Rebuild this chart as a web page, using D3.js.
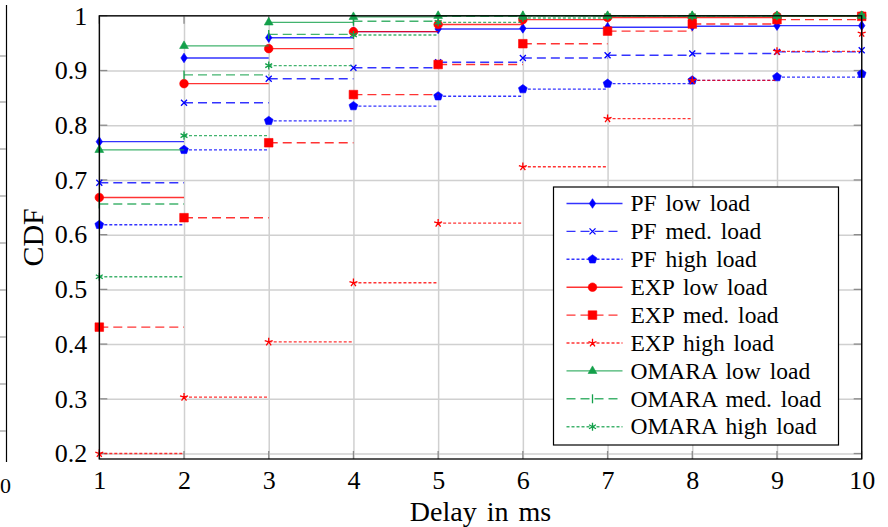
<!DOCTYPE html>
<html>
<head>
<meta charset="utf-8">
<script src="https://cdn.jsdelivr.net/npm/d3@7"></script>
<style>
  body { margin: 0; background: #fff; }
  svg text { font-family: "Liberation Serif", "Times New Roman", Times, serif !important; }
</style>
</head>
<body>
<svg id="chart" width="888" height="527"></svg>
<script>
// delay values (ms) on the x axis
const delays = [1, 2, 3, 4, 5, 6, 7, 8, 9, 10];
const yTicks = [0.2, 0.3, 0.4, 0.5, 0.6, 0.7, 0.8, 0.9, 1];

// CDF values, one per delay
const pfLow     = [0.770, 0.923, 0.960, 0.971, 0.976, 0.977, 0.979, 0.981, 0.982, 0.982];
const pfMed     = [0.695, 0.841, 0.885, 0.905, 0.915, 0.923, 0.928, 0.931, 0.934, 0.937];
const pfHigh    = [0.618, 0.755, 0.808, 0.835, 0.853, 0.866, 0.876, 0.882, 0.888, 0.894];
const expLow    = [0.668, 0.876, 0.940, 0.971, 0.984, 0.993, 0.997, 0.997, 0.999, 1.000];
const expMed    = [0.431, 0.631, 0.768, 0.856, 0.911, 0.949, 0.972, 0.985, 0.993, 0.999];
const expHigh   = [0.200, 0.303, 0.404, 0.512, 0.621, 0.724, 0.812, 0.882, 0.935, 0.968];
const omaraLow  = [0.755, 0.945, 0.988, 0.998, 1.000, 1.000, 1.000, 1.000, 1.000, 1.000];
const omaraMed  = [0.656, 0.892, 0.966, 0.990, 0.999, 1.000, 1.000, 1.000, 1.000, 1.000];
const omaraHigh = [0.523, 0.781, 0.909, 0.965, 0.988, 0.996, 1.000, 1.000, 1.000, 1.000];

const blue = "#0000ff", red = "#ff0000", green = "#13a04a";
const solid = null, dashed = "9,5", dotted = "3,2";
const serifFont = "Liberation Serif";

const series = [
    { name: "PF low load",       values: pfLow,     color: blue,  dash: solid,  mark: "diamond" },
    { name: "PF med. load",      values: pfMed,     color: blue,  dash: dashed, mark: "x" },
    { name: "PF high load",      values: pfHigh,    color: blue,  dash: dotted, mark: "pentagon" },
    { name: "EXP low load",      values: expLow,    color: red,   dash: solid,  mark: "circle" },
    { name: "EXP med. load",     values: expMed,    color: red,   dash: dashed, mark: "square" },
    { name: "EXP high load",     values: expHigh,   color: red,   dash: dotted, mark: "star" },
    { name: "OMARA low load",    values: omaraLow,  color: green, dash: solid,  mark: "triangle" },
    { name: "OMARA med. load",   values: omaraMed,  color: green, dash: dashed, mark: "bar" },
    { name: "OMARA high load",   values: omaraHigh, color: green, dash: dotted, mark: "asterisk" }
];

const plotLeft = 99.3, plotRight = 861.7, plotTop = 15.8, plotBottom = 459;

const xScale = d3.scaleLinear().domain([1, 10]).range([plotLeft, plotRight]);
const yScale = d3.scaleLinear().domain([0.19, 1]).range([plotBottom, plotTop]);

const svg = d3.select("#chart");

// right edge of the neighbouring figure, cropped at the left border
const stub = svg.append("g");
stub.append("line")
    .attr("x1", 6.5).attr("x2", 6.5).attr("y1", 5).attr("y2", 462)
    .attr("stroke", "#000").attr("stroke-width", 1.2);
[56, 102, 149, 196, 243, 290, 337, 384, 431].forEach(y => {
    stub.append("line")
        .attr("x1", 0).attr("x2", 6).attr("y1", y).attr("y2", y)
        .attr("stroke", "#999").attr("stroke-width", 1.2);
});
stub.append("text").attr("x", 0).attr("y", 493)
    .attr("font-family", serifFont).attr("font-size", 22).text("0");

// grid lines
const grid = svg.append("g");
grid.append("g")
    .attr("transform", `translate(0, ${plotBottom})`)
    .call(d3.axisBottom(xScale).tickValues(delays).tickSize(-(plotBottom - plotTop)).tickFormat(""))
    .call(g => g.select(".domain").remove());
grid.append("g")
    .attr("transform", `translate(${plotLeft}, 0)`)
    .call(d3.axisLeft(yScale).tickValues(yTicks).tickSize(-(plotRight - plotLeft)).tickFormat(""))
    .call(g => g.select(".domain").remove());
grid.selectAll("line").attr("stroke", "#d0d0d0").attr("stroke-width", 1.5);

// small inner tick marks on all four sides
const tickLen = 8;
const ticks = svg.append("g").attr("stroke", "#8c8c8c").attr("stroke-width", 1.3);
delays.forEach(d => {
    ticks.append("line").attr("x1", xScale(d)).attr("x2", xScale(d)).attr("y1", plotBottom).attr("y2", plotBottom - tickLen);
    ticks.append("line").attr("x1", xScale(d)).attr("x2", xScale(d)).attr("y1", plotTop).attr("y2", plotTop + tickLen);
});
yTicks.forEach(v => {
    ticks.append("line").attr("x1", plotLeft).attr("x2", plotLeft + tickLen).attr("y1", yScale(v)).attr("y2", yScale(v));
    ticks.append("line").attr("x1", plotRight).attr("x2", plotRight - tickLen).attr("y1", yScale(v)).attr("y2", yScale(v));
});

// marker shapes, centred on 0,0
const pentagon = d3.range(5).map(i => {
    const a = -Math.PI / 2 + i * 2 * Math.PI / 5;
    return [4.6 * Math.cos(a), 4.6 * Math.sin(a)];
});
function rays(n, r, offset) {
    let p = "";
    for (let i = 0; i < n; i++) {
        const a = offset + i * 2 * Math.PI / n;
        p += `M0,0L${(r * Math.cos(a)).toFixed(2)},${(r * Math.sin(a)).toFixed(2)}`;
    }
    return p;
}
const markPaths = {
    diamond:  { d: "M0,-4.8L3.2,0L0,4.8L-3.2,0Z", fill: true },
    x:        { d: "M-3,-3L3,3M-3,3L3,-3", fill: false },
    pentagon: { d: "M" + pentagon.map(p => p.join(",")).join("L") + "Z", fill: true },
    circle:   { d: "M4.3,0A4.3,4.3 0 1,1 -4.3,0A4.3,4.3 0 1,1 4.3,0Z", fill: true },
    square:   { d: "M-4.3,-4.3H4.3V4.3H-4.3Z", fill: true },
    star:     { d: rays(5, 4.2, -Math.PI / 2), fill: false },
    triangle: { d: "M0,-5L4.4,2.6L-4.4,2.6Z", fill: true },
    bar:      { d: "M0,-4.5V4.5", fill: false },
    asterisk: { d: rays(6, 4, -Math.PI / 2), fill: false }
};

function addMark(g, s, x, y) {
    const m = markPaths[s.mark];
    g.append("path")
        .attr("transform", `translate(${x}, ${y})`)
        .attr("d", m.d)
        .attr("fill", m.fill ? s.color : "none")
        .attr("stroke", s.color)
        .attr("stroke-width", m.fill ? 0.6 : 1.3);
}

// step lines (jump mark left) and markers
const plot = svg.append("g");
series.forEach(s => {
    const g = plot.append("g");
    for (let i = 0; i < delays.length - 1; i++) {
        g.append("line")
            .attr("x1", xScale(delays[i]))
            .attr("x2", xScale(delays[i + 1]))
            .attr("y1", yScale(s.values[i]))
            .attr("y2", yScale(s.values[i]))
            .attr("stroke", s.color)
            .attr("stroke-opacity", 0.8)
            .attr("stroke-width", 1.4)
            .attr("stroke-dasharray", s.dash);
    }
    delays.forEach((d, i) => addMark(g, s, xScale(d), yScale(s.values[i])));
});

// frame
svg.append("rect")
    .attr("x", plotLeft).attr("y", plotTop)
    .attr("width", plotRight - plotLeft).attr("height", plotBottom - plotTop)
    .attr("fill", "none").attr("stroke", "#000").attr("stroke-width", 1.3);

// tick labels
const xAxis = svg.append("g")
    .attr("transform", `translate(0, ${plotBottom})`)
    .call(d3.axisBottom(xScale).tickValues(delays).tickSize(0).tickPadding(12));
xAxis.attr("font-family", serifFont).attr("font-size", 26);
xAxis.select(".domain").remove();
xAxis.selectAll("text").attr("fill", "#000");

const yAxis = svg.append("g")
    .attr("transform", `translate(${plotLeft}, 0)`)
    .call(d3.axisLeft(yScale).tickValues(yTicks).tickSize(0).tickPadding(12)
        .tickFormat(d => d === 1 ? "1" : d3.format(".1f")(d)));
yAxis.attr("font-family", serifFont).attr("font-size", 26);
yAxis.select(".domain").remove();
yAxis.selectAll("text").attr("fill", "#000");

// axis labels
svg.append("text")
    .attr("x", (plotLeft + plotRight) / 2)
    .attr("y", 521)
    .attr("text-anchor", "middle")
    .attr("font-family", serifFont)
    .attr("font-size", 28)
    .style("word-spacing", "3px")
    .text("Delay in ms");

svg.append("text")
    .attr("transform", "rotate(-90)")
    .attr("x", -(plotTop + plotBottom) / 2)
    .attr("y", 43)
    .attr("text-anchor", "middle")
    .attr("font-family", serifFont)
    .attr("font-size", 30)
    .text("CDF");

// legend
const legend = svg.append("g").attr("transform", "translate(553.5, 187)");
legend.append("rect")
    .attr("width", 285).attr("height", 258)
    .attr("fill", "#fff").attr("stroke", "#000").attr("stroke-width", 1.2);

series.forEach((s, i) => {
    const row = legend.append("g").attr("transform", `translate(0, ${16.5 + i * 27.9})`);
    row.append("line")
        .attr("x1", 13).attr("x2", 69).attr("y1", 0).attr("y2", 0)
        .attr("stroke", s.color)
        .attr("stroke-opacity", 0.8)
        .attr("stroke-width", 1.4)
        .attr("stroke-dasharray", s.dash);
    addMark(row, s, 39, 0);
    row.append("text")
        .attr("x", 77)
        .attr("dy", "0.33em")
        .attr("font-family", serifFont)
        .attr("font-size", 23.5)
        .style("word-spacing", "3px")
        .text(s.name);
});
</script>
</body>
</html>
